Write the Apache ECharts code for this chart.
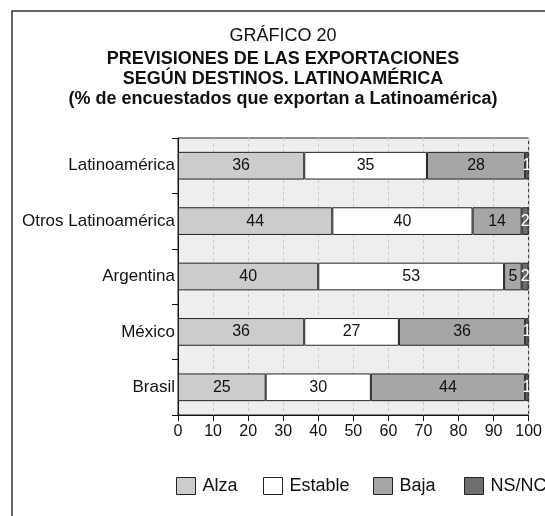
<!DOCTYPE html>
<html>
<head>
<meta charset="utf-8">
<script src="https://cdn.jsdelivr.net/npm/echarts@6/dist/echarts.min.js"></script>
<style>
html,body{margin:0;padding:0;background:#fff;}
#chart{width:545px;height:516px;}
</style>
</head>
<body>
<div id="chart"></div>
<script>
// destinos (de arriba abajo)
var destinos = ['Latinoamérica', 'Otros Latinoamérica', 'Argentina', 'México', 'Brasil'];
var seriesNames = ['Alza', 'Estable', 'Baja', 'NS/NC'];
var alza = [36, 44, 40, 36, 25];
var estable = [35, 40, 53, 27, 30];
var baja = [28, 14, 5, 36, 44];
var nsnc = [1, 2, 2, 1, 1];
var xTicks = [0, 10, 20, 30, 40, 50, 60, 70, 80, 90, 100];

var colores = ['#cccccc', '#ffffff', '#a6a6a6', '#6e6e6e'];
var labelColores = ['#111', '#111', '#111', '#ffffff'];
var valores = [alza, estable, baja, nsnc];
var legendLeft = [176, 263, 373, 464];
var FONT = '"Liberation Sans", Arial, sans-serif';

var series = [];
for (var i = 0; i < seriesNames.length; i++) {
	series.push({
		name: seriesNames[i],
		type: 'bar',
		stack: 'total',
		barWidth: '50%',
		data: valores[i],
		itemStyle: {
			color: colores[i],
			borderColor: '#222',
			borderWidth: 1
		},
		label: {
			show: true,
			position: 'inside',
			color: labelColores[i],
			fontSize: 16,
			fontFamily: FONT
		}
	});
}

// una leyenda por serie para fijar su posicion
var legends = [];
for (var j = 0; j < seriesNames.length; j++) {
	legends.push({
		left: legendLeft[j],
		top: 477,
		padding: 0,
		itemWidth: 19,
		itemHeight: 17,
		itemGap: 7,
		icon: 'rect',
		data: [seriesNames[j]],
		itemStyle: { borderColor: '#222', borderWidth: 1 },
		textStyle: { fontSize: 18, color: '#111', fontFamily: FONT, padding: [0, 0, 0, 2] }
	});
}

var option = {
	animation: false,
	backgroundColor: '#fff',
	textStyle: { fontFamily: FONT },
	title: {
		left: 283,
		top: 23,
		padding: 0,
		textAlign: 'center',
		text: '{a|GRÁFICO 20}\n{b|PREVISIONES DE LAS EXPORTACIONES}\n{b|SEGÚN DESTINOS. LATINOAMÉRICA}\n{b|(% de encuestados que exportan a Latinoamérica)}',
		textStyle: {
			rich: {
				a: { fontSize: 18, color: '#111', fontWeight: 'normal', fontFamily: FONT, lineHeight: 26 },
				b: { fontSize: 18, color: '#111', fontWeight: 'bold', fontFamily: FONT, lineHeight: 20 }
			}
		}
	},
	graphic: [{
		type: 'rect',
		shape: { x: 12, y: 11, width: 700, height: 700 },
		style: { fill: 'none', stroke: '#333', lineWidth: 1.5 },
		silent: true
	}],
	legend: legends,
	grid: {
		left: 178,
		top: 138,
		right: 12,
		bottom: 101,
		show: true,
		backgroundColor: '#eeeeee',
		borderColor: '#222',
		borderWidth: 1
	},
	xAxis: {
		type: 'value',
		min: 0,
		max: 100,
		interval: 10,
		axisLine: { show: true, lineStyle: { color: '#111', width: 1 } },
		axisTick: { show: true, length: 6, lineStyle: { color: '#111' } },
		axisLabel: {
			fontSize: 16, color: '#111', margin: 9, fontFamily: FONT,
			formatter: function (v) { return xTicks.indexOf(v) >= 0 ? String(v) : ''; }
		},
		splitLine: { show: true, lineStyle: { color: '#c8c8c8', type: [3, 3] } }
	},
	yAxis: {
		type: 'category',
		inverse: true,
		data: destinos,
		axisLine: { show: true, lineStyle: { color: '#111', width: 1 } },
		axisTick: { show: true, length: 6, lineStyle: { color: '#111' } },
		axisLabel: { fontSize: 17, color: '#111', margin: 3, fontFamily: FONT }
	},
	series: series
};

var myChart = echarts.init(document.getElementById('chart'));
myChart.setOption(option);
</script>
</body>
</html>
